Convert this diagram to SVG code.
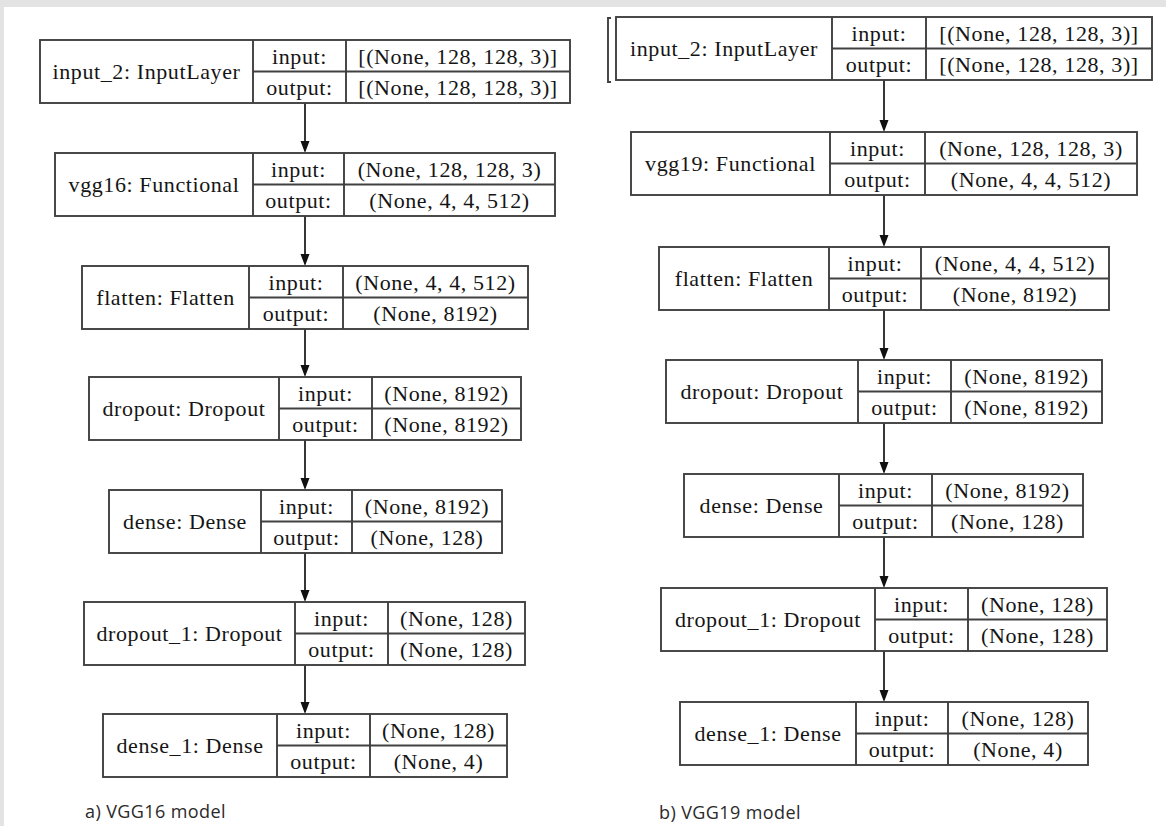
<svg xmlns="http://www.w3.org/2000/svg" width="1166" height="826" viewBox="0 0 1166 826">
<style>
.bx{fill:#fff;stroke:#404040;stroke-width:1.9}
.ln{fill:none;stroke:#404040;stroke-width:1.9}
.t{font-family:"Liberation Serif","DejaVu Serif",serif;font-size:22px;letter-spacing:0.6px;fill:#151515;text-anchor:middle}
.cap{font-family:"Open Sans","Liberation Sans",sans-serif;font-size:18px;letter-spacing:0.4px;fill:#2a2a2a}
.ed{stroke:#222;stroke-width:1.8;fill:none}
.ah{fill:#111}
</style>
<rect width="1166" height="826" fill="#fff"/>
<rect x="0" y="0" width="1166" height="7" fill="#e3e3e3"/>
<rect x="0" y="0" width="4" height="826" fill="#e3e3e3"/>
<path d="M611 18H608V82H611" class="ln" stroke="#555"/>

<g id="connectors">
<path class="ed" d="M305 103V141M305 216V254M305 329V365M305 440V478M305 553V590M305 665V702"/>
<path class="ah" d="M300.5 141H309.5L305 153ZM300.5 254H309.5L305 266ZM300.5 365H309.5L305 377ZM300.5 478H309.5L305 490ZM300.5 590H309.5L305 602ZM300.5 702H309.5L305 714Z"/>
<path class="ed" d="M884 80V120M884 195V235M884 310V348M884 423V462M884 537V576M884 651V690"/>
<path class="ah" d="M879.5 120H888.5L884 132ZM879.5 235H888.5L884 247ZM879.5 348H888.5L884 360ZM879.5 462H888.5L884 474ZM879.5 576H888.5L884 588ZM879.5 690H888.5L884 702Z"/>
</g>

<g id="a_input_2">
<rect class="bx" x="40" y="40" width="530" height="63"/>
<path class="ln" d="M253 40V103M346 40V103M253 71.5H570"/>
<text class="t" x="146.5" y="79">input_2: InputLayer</text>
<text class="t" x="299.5" y="63.5">input:</text>
<text class="t" x="299.5" y="94.5">output:</text>
<text class="t" x="458" y="63.5">[(None, 128, 128, 3)]</text>
<text class="t" x="458" y="94.5">[(None, 128, 128, 3)]</text>
</g>
<g id="a_vgg16">
<rect class="bx" x="55" y="153" width="500" height="63"/>
<path class="ln" d="M253 153V216M344 153V216M253 184.5H555"/>
<text class="t" x="154" y="192">vgg16: Functional</text>
<text class="t" x="298.5" y="176.5">input:</text>
<text class="t" x="298.5" y="207.5">output:</text>
<text class="t" x="449.5" y="176.5">(None, 128, 128, 3)</text>
<text class="t" x="449.5" y="207.5">(None, 4, 4, 512)</text>
</g>
<g id="a_flatten">
<rect class="bx" x="82" y="266" width="446" height="63"/>
<path class="ln" d="M249 266V329M343 266V329M249 297.5H528"/>
<text class="t" x="165.5" y="305">flatten: Flatten</text>
<text class="t" x="296" y="289.5">input:</text>
<text class="t" x="296" y="320.5">output:</text>
<text class="t" x="435.5" y="289.5">(None, 4, 4, 512)</text>
<text class="t" x="435.5" y="320.5">(None, 8192)</text>
</g>
<g id="a_dropout">
<rect class="bx" x="89" y="377" width="432" height="63"/>
<path class="ln" d="M279 377V440M372 377V440M279 408.5H521"/>
<text class="t" x="184" y="416">dropout: Dropout</text>
<text class="t" x="325.5" y="400.5">input:</text>
<text class="t" x="325.5" y="431.5">output:</text>
<text class="t" x="446.5" y="400.5">(None, 8192)</text>
<text class="t" x="446.5" y="431.5">(None, 8192)</text>
</g>
<g id="a_dense">
<rect class="bx" x="109" y="490" width="393" height="63"/>
<path class="ln" d="M261 490V553M352 490V553M261 521.5H502"/>
<text class="t" x="185" y="529">dense: Dense</text>
<text class="t" x="306.5" y="513.5">input:</text>
<text class="t" x="306.5" y="544.5">output:</text>
<text class="t" x="427" y="513.5">(None, 8192)</text>
<text class="t" x="427" y="544.5">(None, 128)</text>
</g>
<g id="a_dropout_1">
<rect class="bx" x="84" y="602" width="441" height="63"/>
<path class="ln" d="M295 602V665M388 602V665M295 633.5H525"/>
<text class="t" x="189.5" y="641">dropout_1: Dropout</text>
<text class="t" x="341.5" y="625.5">input:</text>
<text class="t" x="341.5" y="656.5">output:</text>
<text class="t" x="456.5" y="625.5">(None, 128)</text>
<text class="t" x="456.5" y="656.5">(None, 128)</text>
</g>
<g id="a_dense_1">
<rect class="bx" x="103" y="714" width="404" height="63"/>
<path class="ln" d="M277 714V777M370 714V777M277 745.5H507"/>
<text class="t" x="190" y="753">dense_1: Dense</text>
<text class="t" x="323.5" y="737.5">input:</text>
<text class="t" x="323.5" y="768.5">output:</text>
<text class="t" x="438.5" y="737.5">(None, 128)</text>
<text class="t" x="438.5" y="768.5">(None, 4)</text>
</g>

<g id="b_input_2">
<rect class="bx" x="616" y="17" width="536" height="63"/>
<path class="ln" d="M832 17V80M926 17V80M832 48.5H1152"/>
<text class="t" x="724" y="56">input_2: InputLayer</text>
<text class="t" x="879" y="40.5">input:</text>
<text class="t" x="879" y="71.5">output:</text>
<text class="t" x="1039" y="40.5">[(None, 128, 128, 3)]</text>
<text class="t" x="1039" y="71.5">[(None, 128, 128, 3)]</text>
</g>
<g id="b_vgg19">
<rect class="bx" x="631" y="132" width="506" height="63"/>
<path class="ln" d="M830 132V195M925 132V195M830 163.5H1137"/>
<text class="t" x="730.5" y="171">vgg19: Functional</text>
<text class="t" x="877.5" y="155.5">input:</text>
<text class="t" x="877.5" y="186.5">output:</text>
<text class="t" x="1031" y="155.5">(None, 128, 128, 3)</text>
<text class="t" x="1031" y="186.5">(None, 4, 4, 512)</text>
</g>
<g id="b_flatten">
<rect class="bx" x="659" y="247" width="450" height="63"/>
<path class="ln" d="M829 247V310M921 247V310M829 278.5H1109"/>
<text class="t" x="744" y="286">flatten: Flatten</text>
<text class="t" x="875" y="270.5">input:</text>
<text class="t" x="875" y="301.5">output:</text>
<text class="t" x="1015" y="270.5">(None, 4, 4, 512)</text>
<text class="t" x="1015" y="301.5">(None, 8192)</text>
</g>
<g id="b_dropout">
<rect class="bx" x="666" y="360" width="436" height="63"/>
<path class="ln" d="M858 360V423M951 360V423M858 391.5H1102"/>
<text class="t" x="762" y="399">dropout: Dropout</text>
<text class="t" x="904.5" y="383.5">input:</text>
<text class="t" x="904.5" y="414.5">output:</text>
<text class="t" x="1026.5" y="383.5">(None, 8192)</text>
<text class="t" x="1026.5" y="414.5">(None, 8192)</text>
</g>
<g id="b_dense">
<rect class="bx" x="684" y="474" width="399" height="63"/>
<path class="ln" d="M839 474V537M932 474V537M839 505.5H1083"/>
<text class="t" x="761.5" y="513">dense: Dense</text>
<text class="t" x="885.5" y="497.5">input:</text>
<text class="t" x="885.5" y="528.5">output:</text>
<text class="t" x="1007.5" y="497.5">(None, 8192)</text>
<text class="t" x="1007.5" y="528.5">(None, 128)</text>
</g>
<g id="b_dropout_1">
<rect class="bx" x="661" y="588" width="446" height="63"/>
<path class="ln" d="M875 588V651M968 588V651M875 619.5H1107"/>
<text class="t" x="768" y="627">dropout_1: Dropout</text>
<text class="t" x="921.5" y="611.5">input:</text>
<text class="t" x="921.5" y="642.5">output:</text>
<text class="t" x="1037.5" y="611.5">(None, 128)</text>
<text class="t" x="1037.5" y="642.5">(None, 128)</text>
</g>
<g id="b_dense_1">
<rect class="bx" x="680" y="702" width="408" height="63"/>
<path class="ln" d="M856 702V765M948 702V765M856 733.5H1088"/>
<text class="t" x="768" y="741">dense_1: Dense</text>
<text class="t" x="902" y="725.5">input:</text>
<text class="t" x="902" y="756.5">output:</text>
<text class="t" x="1018" y="725.5">(None, 128)</text>
<text class="t" x="1018" y="756.5">(None, 4)</text>
</g>

<text class="cap" x="85" y="818">a) VGG16 model</text>
<text class="cap" x="659" y="819">b) VGG19 model</text>
</svg>
